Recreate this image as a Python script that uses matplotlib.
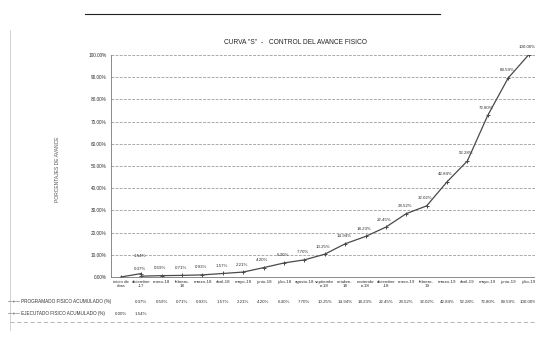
import matplotlib.pyplot as plt
import numpy as np
from matplotlib.lines import Line2D

# curva S - control del avance fisico
plt.rcParams['font.family'] = ['Liberation Sans Narrow', 'Liberation Sans', 'DejaVu Sans']

meses = ['inicio de\nobra', 'diciembre\n-17', 'enero-18', 'febrero-\n18', 'marzo-18',
         'abril-18', 'mayo-18', 'junio-18', 'julio-18', 'agosto-18', 'septiembr\ne-18',
         'octubre-\n18', 'noviembr\ne-18', 'diciembre\n-18', 'enero-19', 'febrero-\n19',
         'marzo-19', 'abril-19', 'mayo-19', 'junio-19', 'julio-19']
programado = [np.nan, 0.37, 0.59, 0.71, 0.93, 1.57, 2.21, 4.20, 6.30, 7.70, 10.25,
              14.94, 18.23, 22.45, 28.52, 32.02, 42.84, 52.28, 72.80, 89.59, 100.00]
ejecutado = [0.00, 1.54]
yticks = np.arange(0, 101, 10)

gris = '#4a4a4a'
txt = '#2e2e2e'
fs = 3.2
x = np.arange(len(meses))

fig = plt.figure(figsize=(5.35, 3.39), dpi=100)
ax = fig.add_axes([0.207, 0.183, 0.80, 0.655])

ax.plot(x, programado, color=gris, lw=0.9, marker='+', ms=3, mew=0.7)
ax.plot(x[:len(ejecutado)], ejecutado, color=gris, lw=0.9, marker='+', ms=3, mew=0.7)

for i, v in enumerate(programado):
    if not np.isnan(v):
        ax.annotate('%.2f%%' % v, (i, v), xytext=(-1, 4), textcoords='offset points',
                    ha='center', va='bottom', fontsize=fs, color=txt)
ax.annotate('%.2f%%' % ejecutado[1], (1, ejecutado[1]), xytext=(-1, 11), textcoords='offset points',
            ha='center', va='bottom', fontsize=fs, color=txt)

ax.set_xlim(-0.5, len(meses) - 0.5)
ax.set_ylim(0, 100)
ax.set_yticks(yticks)
ax.set_yticklabels(['%.2f%%' % t for t in yticks], fontsize=3.4, color=txt)
ax.set_xticks(x)
ax.set_xticklabels(meses, fontsize=fs, color=txt, linespacing=1.2)
ax.tick_params(axis='x', length=0, pad=2)
ax.tick_params(axis='y', length=0, pad=3)
ax.grid(axis='y', color='#888888', ls=(0, (4, 2)), lw=0.5)
for s in ['top', 'right']:
    ax.spines[s].set_visible(False)
ax.spines['left'].set_color('#777777')
ax.spines['left'].set_linewidth(0.6)
ax.spines['bottom'].set_color('#777777')
ax.spines['bottom'].set_linewidth(0.6)

# tabla de datos
tr = ax.get_xaxis_transform()
for i, v in enumerate(programado):
    if not np.isnan(v):
        ax.text(i, -0.113, '%.2f%%' % v, transform=tr, ha='center', va='center',
                fontsize=fs, color=txt)
for i, v in enumerate(ejecutado):
    ax.text(i, -0.167, '%.2f%%' % v, transform=tr, ha='center', va='center',
            fontsize=fs, color=txt)

fig.text(0.015, 1 - 302 / 339, '—+— PROGRAMADO FISICO ACUMULADO (%)', fontsize=3.3,
         color=txt, va='center')
fig.text(0.015, 1 - 314 / 339, '—+— EJECUTADO FISICO ACUMULADO (%)', fontsize=3.3,
         color=txt, va='center')

fig.text(0.553, 1 - 42 / 339, 'CURVA "S"  -   CONTROL DEL AVANCE FISICO', fontsize=4.8,
         color='#222222', ha='center', va='center')
fig.text(0.108, 0.5, 'PORCENTAJES DE AVANCE', rotation=90, fontsize=3.6,
         color='#555555', ha='center', va='center')

# bordes de la hoja escaneada
fig.add_artist(Line2D([85 / 535, 440 / 535], [1 - 14 / 339] * 2, color='#222222', lw=0.8))
fig.add_artist(Line2D([10 / 535, 10 / 535], [1 - 30 / 339, 1 - 330 / 339], color='#cccccc', lw=0.6))
fig.add_artist(Line2D([10 / 535, 535 / 535], [1 - 322 / 339] * 2, color='#aaaaaa', lw=0.6,
                      ls=(0, (5, 3))))

fig.savefig('out.png', dpi=100)
